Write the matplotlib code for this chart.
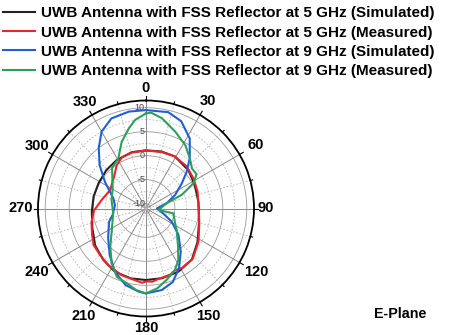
import numpy as np
import matplotlib
matplotlib.use("Agg")
import matplotlib.pyplot as plt

plt.rcParams['font.family'] = ['Liberation Sans', 'DejaVu Sans']

# ---- data (angle in degrees, gain in dB) ----
sim5_ang = [0, 15, 29, 48, 64, 83, 104, 123, 138, 153, 167, 180, 192, 206, 220, 234, 250, 267, 283, 298, 314, 329, 346]
sim5_gain = [1.1, 1.3, 1.4, 0.9, 0.3, 0.0, 0.4, 1.8, 3.3, 3.8, 3.9, 3.9, 3.9, 3.7, 2.9, 2.1, 0.9, 0.3, 0.2, 0.2, 0.5, 0.8, 1.1]

meas5_ang = [0, 16, 29, 44, 58, 72, 90, 107, 122, 137, 149, 155, 160, 170, 175, 180, 183, 189, 200, 214, 225, 235, 244, 256, 268, 281, 297, 315, 326, 335, 346]
meas5_gain = [1.1, 1.2, 1.4, 1.2, 0.7, 0.3, 0.0, 0.6, 1.9, 3.3, 3.5, 3.2, 3.7, 3.9, 4.3, 4.2, 4.5, 4.1, 3.8, 3.2, 2.6, 2.3, 1.5, 0.7, -0.2, -1.6, -2.6, -1.6, -0.1, 0.8, 1.0]

sim9_ang = [0, 13, 22, 32, 41, 48, 55, 65, 76, 89, 106, 117, 129, 141, 151, 160, 169, 180, 185, 195, 206, 218, 232, 250, 259, 276, 287, 303, 313, 322, 330, 339, 350]
sim9_gain = [9.5, 9.6, 8.6, 6.2, 2.9, 0.4, -1.9, -4.3, -6.6, -8.7, -7.3, -5.0, -2.3, 0.5, 3.2, 5.3, 6.3, 6.7, 6.4, 5.5, 3.7, 1.3, -1.0, -2.8, -3.9, -4.5, -3.9, -0.8, 2.2, 5.0, 7.5, 9.1, 9.5]

meas9_ang = [0, 3, 10, 21, 32, 41, 49, 56, 62, 69, 76, 97, 100, 117, 125, 140, 148, 155, 164, 172, 180, 187, 194, 203, 212, 223, 238, 262, 284, 301, 320, 331, 340, 348, 353]
meas9_gain = [8.8, 9.0, 8.1, 6.1, 4.5, 2.9, 1.7, 1.7, 0.2, -3.0, -6.6, -8.4, -5.2, -4.2, -3.2, -0.6, 1.7, 3.2, 4.5, 5.8, 6.7, 6.1, 5.1, 4.5, 2.5, -0.1, -2.6, -4.1, -3.6, -2.9, 0.0, 0.9, 3.8, 6.1, 7.6]

series = [
    ("UWB Antenna with FSS Reflector at 5 GHz (Simulated)", sim5_ang, sim5_gain, "#222222"),
    ("UWB Antenna with FSS Reflector at 5 GHz (Measured)", meas5_ang, meas5_gain, "#e8262b"),
    ("UWB Antenna with FSS Reflector at 9 GHz (Simulated)", sim9_ang, sim9_gain, "#1f5fd6"),
    ("UWB Antenna with FSS Reflector at 9 GHz (Measured)", meas9_ang, meas9_gain, "#2e9e5b"),
]
r_ticks = [-10, -5, 0, 5, 10]
theta_labels = [0, 30, 60, 90, 120, 150, 180, 210, 240, 270, 300, 330]

RMIN, RMAX = -11, 11.5
W, H = 451, 335
CX, CY, RPX = 146, 208.5, 108

fig = plt.figure(figsize=(W / 100, H / 100), dpi=100)
ax = fig.add_axes([(CX - RPX) / W, (H - CY - RPX) / H, 2 * RPX / W, 2 * RPX / H], projection='polar')
ax.set_theta_zero_location('N')
ax.set_theta_direction(-1)
ax.set_ylim(RMIN, RMAX)

# grid
ax.grid(False)
th = np.linspace(0, 2 * np.pi, 400)
for rv in r_ticks:
    ax.plot(th, np.full_like(th, rv), color='#9a9a9a', lw=0.6, zorder=1)
for rv in [-7.5, -2.5, 2.5, 7.5]:
    ax.plot(th, np.full_like(th, rv), color='#b5b5b5', lw=0.6, ls=(0, (2, 2)), zorder=1)
for a in range(0, 360, 30):
    ax.plot([np.deg2rad(a)] * 2, [RMIN, RMAX], color='#8a8a8a', lw=0.7, zorder=1)
for a in range(15, 360, 30):
    ax.plot([np.deg2rad(a)] * 2, [RMIN, RMAX], color='#b5b5b5', lw=0.6, ls=(0, (2, 2)), zorder=1)

ax.spines['polar'].set_color('black')
ax.spines['polar'].set_linewidth(1.3)

# curves
lines = []
for name, ang, gain, col in series:
    a = np.deg2rad(np.array(ang + [ang[0]], dtype=float))
    g = np.array(gain + [gain[0]], dtype=float)
    ln, = ax.plot(a, g, color=col, lw=1.5, label=name, zorder=3)
    lines.append(ln)

# angle ticks / labels
ax.set_xticks(np.deg2rad(theta_labels))
ax.set_xticklabels([])
ax.tick_params(axis='x', length=0)
ax.set_yticks([])
for a in range(0, 360, 15):
    L = 0.9 if a % 30 == 0 else 0.5
    ax.plot([np.deg2rad(a)] * 2, [RMAX, RMAX + L], color='black', lw=0.8, clip_on=False, zorder=4)

label_r = {0: 120.5, 30: 124, 60: 127, 90: 120, 120: 127, 150: 124, 180: 119,
           210: 124, 240: 126, 270: 125, 300: 126, 330: 123}
for t in theta_labels:
    rr = label_r[t]
    px = CX + rr * np.sin(np.deg2rad(t))
    py = CY - rr * np.cos(np.deg2rad(t))
    fig.text(px / W, 1 - py / H, str(t), fontsize=10.5, fontweight='bold', ha='center', va='center')

for rv in r_ticks:
    ax.text(np.deg2rad(-1.0), rv, str(rv), fontsize=6.5, color='#444444', ha='right', va='center', zorder=5)

fig.legend(handles=lines, loc='upper left', bbox_to_anchor=(0.0, 0.99), frameon=False,
           prop={'weight': 'bold', 'size': 11.0}, handlelength=2.1, handletextpad=0.4,
           labelspacing=0.34, borderaxespad=0.0, borderpad=0.2)

fig.text(0.887, 0.062, "E-Plane", fontsize=10.3, fontweight='bold', ha='center', va='center')

fig.savefig("out.png", dpi=100)
